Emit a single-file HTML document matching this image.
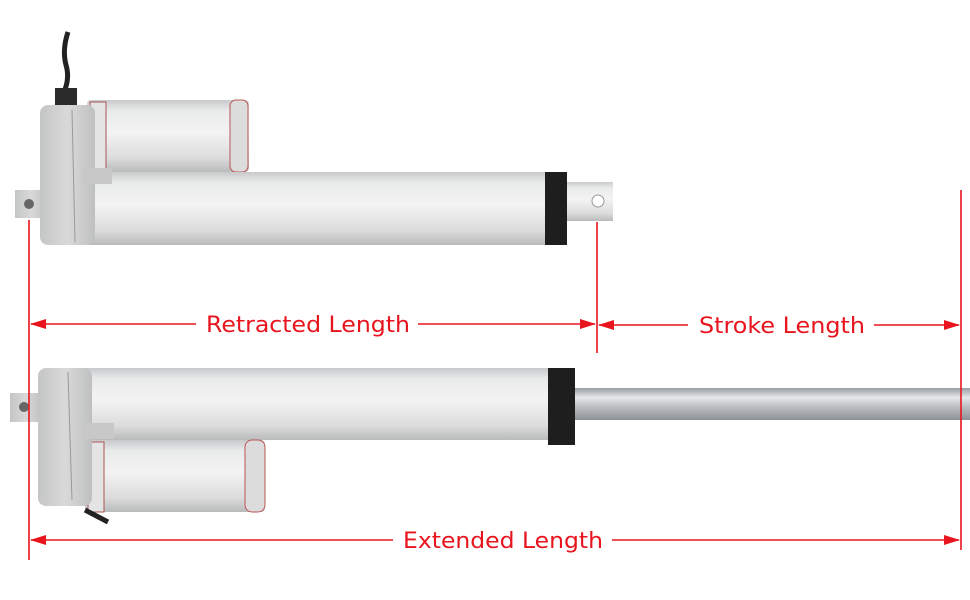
<!DOCTYPE html>
<html><head><meta charset="utf-8"><style>html,body{margin:0;padding:0;background:#fff}svg{display:block}</style></head>
<body>
<svg width="970" height="600" viewBox="0 0 970 600" xmlns="http://www.w3.org/2000/svg">
<defs>
<linearGradient id="tube" x1="0" y1="0" x2="0" y2="1">
<stop offset="0" stop-color="#c9cacb"/><stop offset="0.15" stop-color="#e9eaea"/><stop offset="0.45" stop-color="#f3f3f3"/><stop offset="0.8" stop-color="#dcdcdc"/><stop offset="1" stop-color="#b9babb"/></linearGradient>
<linearGradient id="rod" x1="0" y1="0" x2="0" y2="1">
<stop offset="0" stop-color="#9a9ea2"/><stop offset="0.3" stop-color="#e6e8ea"/><stop offset="0.55" stop-color="#c0c3c6"/><stop offset="1" stop-color="#8d9195"/></linearGradient>
<linearGradient id="box" x1="0" y1="0" x2="1" y2="0">
<stop offset="0" stop-color="#c4c5c6"/><stop offset="0.5" stop-color="#d9d9d9"/><stop offset="1" stop-color="#bfc0c1"/></linearGradient>
</defs>
<!-- top actuator -->
<path d="M68 32 Q62 50 66 65 Q70 78 64 92" stroke="#222" stroke-width="5" fill="none"/>
<rect x="55" y="88" width="22" height="20" fill="#2a2a2a"/>
<rect x="87" y="100" width="162" height="72" rx="4" fill="url(#tube)"/>
<rect x="230" y="100" width="18" height="72" rx="6" fill="#dcdcdc" stroke="#b55" stroke-width="1"/>
<rect x="90" y="102" width="16" height="70" fill="#e4e4e4" stroke="#a55" stroke-width="1"/>
<rect x="85" y="172" width="463" height="73" fill="url(#tube)"/>
<rect x="545" y="172" width="22" height="73" fill="#1e1e1e"/>
<rect x="567" y="182" width="46" height="39" fill="url(#tube)"/>
<circle cx="598" cy="201" r="6" fill="#fff" stroke="#999"/>
<rect x="15" y="190" width="32" height="28" fill="url(#box)"/>
<circle cx="29" cy="204" r="5" fill="#666"/>
<rect x="40" y="105" width="55" height="140" rx="8" fill="url(#box)"/>
<line x1="72" y1="110" x2="75" y2="242" stroke="#999"/>
<rect x="82" y="168" width="30" height="16" fill="#c8c8c8"/>
<!-- bottom actuator -->
<rect x="85" y="368" width="465" height="72" fill="url(#tube)"/>
<rect x="548" y="368" width="27" height="77" fill="#1e1e1e"/>
<rect x="575" y="388" width="395" height="32" fill="url(#rod)"/>
<rect x="85" y="440" width="180" height="72" rx="4" fill="url(#tube)"/>
<rect x="245" y="440" width="20" height="72" rx="7" fill="#dcdcdc" stroke="#b55"/>
<rect x="88" y="442" width="16" height="70" fill="#e4e4e4" stroke="#a55"/>
<rect x="10" y="393" width="32" height="29" fill="url(#box)"/>
<circle cx="24" cy="407" r="5" fill="#666"/>
<rect x="38" y="368" width="54" height="138" rx="8" fill="url(#box)"/>
<line x1="68" y1="372" x2="72" y2="500" stroke="#999"/>
<rect x="82" y="423" width="32" height="16" fill="#c8c8c8"/>
<path d="M85 510 L108 522" stroke="#222" stroke-width="5"/>
<!-- dimension lines -->
<g stroke="#e8141e" stroke-width="1.6" fill="none">
<line x1="29" y1="220" x2="29" y2="560"/>
<line x1="597" y1="222" x2="597" y2="353"/>
<line x1="961" y1="190" x2="961" y2="550"/>
<line x1="31" y1="324" x2="196" y2="324"/>
<line x1="418" y1="324" x2="595" y2="324"/>
<line x1="599" y1="325" x2="688" y2="325"/>
<line x1="874" y1="325" x2="959" y2="325"/>
<line x1="31" y1="540" x2="393" y2="540"/>
<line x1="612" y1="540" x2="959" y2="540"/>
</g>
<g fill="#e8141e">
<path d="M30 324 l16 -5 v10z"/><path d="M596 324 l-16 -5 v10z"/>
<path d="M598 325 l16 -5 v10z"/><path d="M960 325 l-16 -5 v10z"/>
<path d="M30 540 l16 -5 v10z"/><path d="M960 540 l-16 -5 v10z"/>
</g>
<g fill="#e8141e" font-family="DejaVu Sans, sans-serif" font-size="22" text-anchor="middle">
<text x="308" y="332" textLength="204" lengthAdjust="spacingAndGlyphs">Retracted Length</text>
<text x="782" y="333" textLength="166" lengthAdjust="spacingAndGlyphs">Stroke Length</text>
<text x="503" y="548" textLength="200" lengthAdjust="spacingAndGlyphs">Extended Length</text>
</g>
</svg>
</body></html>
